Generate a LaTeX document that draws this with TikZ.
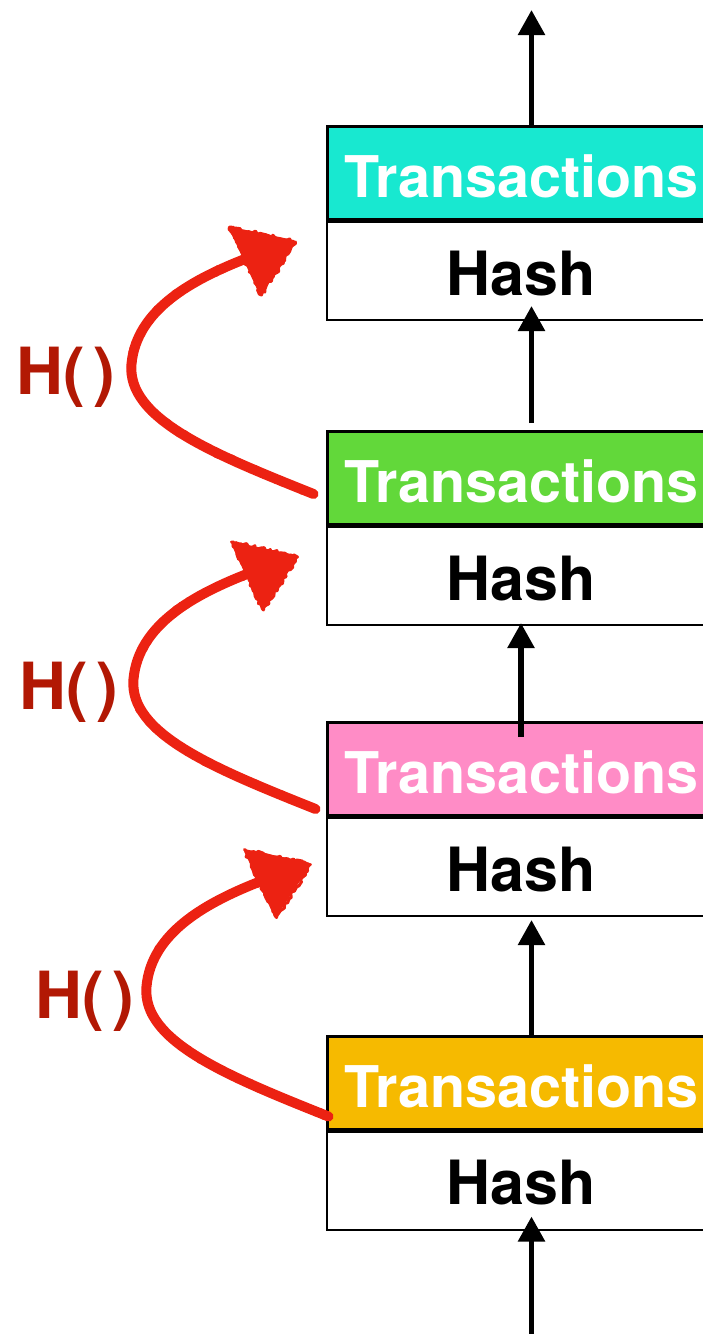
\documentclass[tikz,border=0pt]{standalone}
\usepackage{fontspec}
\setmainfont{TeX Gyre Heros}
\usetikzlibrary{arrows.meta,positioning,decorations.pathmorphing}

\definecolor{txcyan}{RGB}{24,232,208}
\definecolor{txgreen}{RGB}{98,216,58}
\definecolor{txpink}{RGB}{255,140,198}
\definecolor{txorange}{RGB}{246,186,0}
\definecolor{hashred}{RGB}{236,34,18}
\definecolor{labelred}{RGB}{178,24,4}

\pgfmathsetseed{7}

\tikzset{
  txbox/.style={draw=black, line width=3pt, minimum width=389pt, minimum height=93pt,
    inner sep=0pt, text height=49pt, text depth=0pt, text=white,
    font=\bfseries\fontsize{57.5}{60}\selectfont},
  hashbox/.style={draw=black, line width=2pt, fill=white, minimum width=389pt,
    minimum height=98pt, inner sep=0pt, text height=48pt, text depth=0pt,
    font=\bfseries\fontsize{61}{64}\selectfont},
  chain/.style={line width=5.5pt, -{Triangle[width=26pt,length=25pt]}},
  hfun/.style={text=labelred, font=\bfseries\fontsize{65}{66}\selectfont, inner sep=0pt,
    anchor=base west},
  hstroke/.style={draw=hashred, line width=10pt, line cap=round},
  hrough/.style={draw=hashred, line width=6pt, line cap=round, line join=round,
    decorate, decoration={random steps, segment length=2.5pt, amplitude=2.2pt}},
  hhead/.style={fill=hashred, draw=hashred, line width=4pt, line join=round},
  hheadrough/.style={draw=hashred, line width=3pt, line join=round,
    decorate, decoration={random steps, segment length=2.5pt, amplitude=1.8pt}},
  % hand-drawn hash arrow, origin at its tail
  hasharrow/.pic={
    \draw[hstroke] (0,0) .. controls (-100,-40) and (-187,-75) .. (-182,-130)
      .. controls (-177,-185) and (-120,-215) .. (-66,-236);
    \draw[hrough] (0,0) .. controls (-100,-40) and (-187,-75) .. (-182,-130)
      .. controls (-177,-185) and (-120,-215) .. (-66,-236);
    \filldraw[hhead] (-20,-252) -- (-82,-265) -- (-53,-202) -- cycle;
    \draw[hheadrough] (-18,-252) -- (-84,-267) -- (-52,-199) -- cycle;
  }
}

\begin{document}
\begin{tikzpicture}[x=1pt, y=-1pt]
  \path[use as bounding box, clip] (0,0) rectangle (703,1334);

  % blocks: hash field with the transactions field above it
  \node[hashbox] (h1) at (521.5,271) {Hash};
  \node[txbox, fill=txcyan, above=0pt of h1] (t1) {Transactions};
  \node[hashbox] (h2) at (521.5,576) {Hash};
  \node[txbox, fill=txgreen, above=0pt of h2] (t2) {Transactions};
  \node[hashbox] (h3) at (521.5,867) {Hash};
  \node[txbox, fill=txpink, above=0pt of h3] (t3) {Transactions};
  \node[hashbox] (h4) at (521.5,1180.5) {Hash};
  \node[txbox, fill=txorange, above=0pt of h4] (t4) {Transactions};

  % open ends of the chain
  \coordinate (out) at (531.5,10);
  \coordinate (in) at (531.5,1334);

  % hash pointers
  \draw[chain] ([xshift=10pt]t1.north) -- (out);
  \draw[chain] ([shift={(10,-7)}]t2.north) -- ([shift={(10,-15)}]h1.south);
  \draw[chain] ([shift={(-0.5,16)}]t3.north) -- ([shift={(-0.5,-3)}]h2.south);
  \draw[chain] ([xshift=10pt]t4.north) -- ([shift={(10,3)}]h3.south);
  \draw[chain] (in) -- ([shift={(10,-14)}]h4.south);

  % hash function annotations
  \coordinate (ta) at ([shift={(-12,-32)}]t2.south west);
  \coordinate (tb) at ([shift={(-10,-8)}]t3.south west);
  \coordinate (tc) at ([shift={(3,-14)}]t4.south west);
  \pic at (ta) {hasharrow};
  \pic at (tb) {hasharrow};
  \pic at (tc) {hasharrow};

  \node[hfun] (fa) at (16,394) {H(\hspace{0.13em})};
  \node[hfun] (fb) at (19,709) {H(\hspace{0.13em})};
  \node[hfun] (fc) at (35,1018) {H(\hspace{0.13em})};
\end{tikzpicture}
\end{document}
